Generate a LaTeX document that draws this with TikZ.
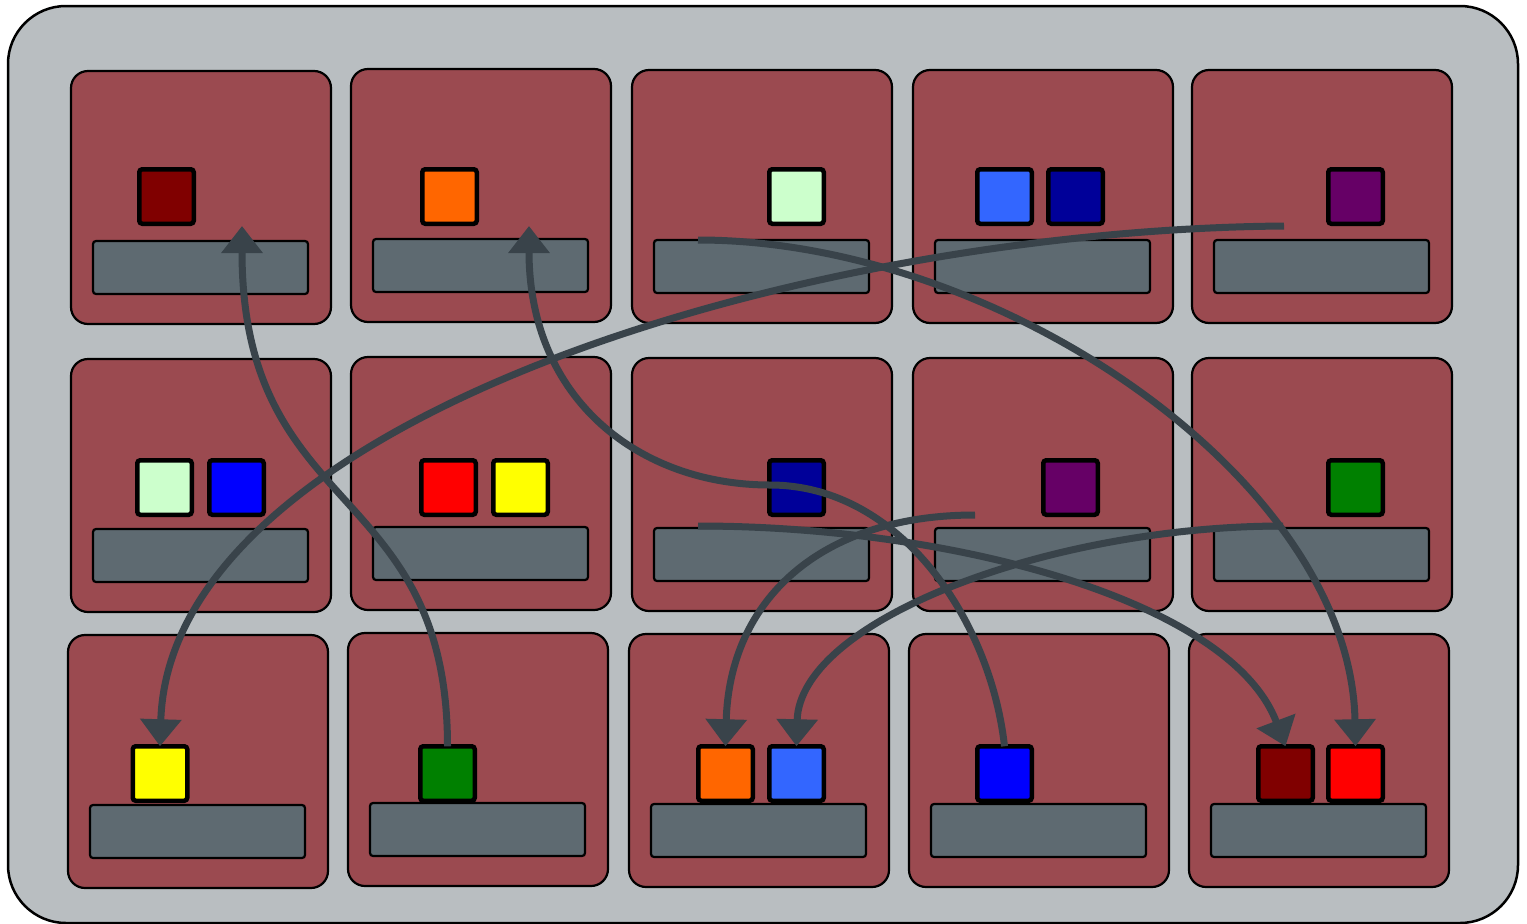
\documentclass[tikz,border=0pt]{standalone}
\usetikzlibrary{arrows.meta}
\definecolor{cboard}{HTML}{B9BEC1}
\definecolor{ccell}{HTML}{9B4A50}
\definecolor{cbar}{HTML}{5E6A71}
\definecolor{cmove}{HTML}{39434A}
\definecolor{pmaroon}{HTML}{800000}
\definecolor{porange}{HTML}{FF6600}
\definecolor{pmint}{HTML}{CCFFCC}
\definecolor{psky}{HTML}{3366FF}
\definecolor{pnavy}{HTML}{000099}
\definecolor{pplum}{HTML}{660066}
\definecolor{pblue}{HTML}{0000FF}
\definecolor{pred}{HTML}{FF0000}
\definecolor{pyellow}{HTML}{FFFF00}
\definecolor{pgreen}{HTML}{008000}
\tikzset{
  every picture/.style={x=1pt, y=-1pt},
  board/.style={draw=black, fill=cboard, line width=2.5pt, rounded corners=58pt},
  cell/.style={draw=black, fill=ccell, line width=2.2pt, rounded corners=17pt, minimum width=260pt, minimum height=253pt, inner sep=0pt, outer sep=0pt, anchor=north west},
  bar/.style={draw=black, fill=cbar, line width=2.2pt, rounded corners=3pt, minimum width=215pt, minimum height=53pt, inner sep=0pt, outer sep=0pt, anchor=north west},
  piece/.style={draw=black, fill=#1, line width=4.5pt, rounded corners=3pt, minimum size=54.5pt, inner sep=0pt, outer sep=0pt},
  move/.style={-{Triangle[width=40pt, length=27pt]}, draw=cmove, line width=7pt},
}

\begin{document}
\begin{tikzpicture}
  \newcommand{\cellbox}[3]{\node[cell] (#1) at (#2,#3) {};
    \node[bar] (#1bar) at ([xshift=22pt, yshift=-170pt]#1.north west) {};}
  \useasboundingbox (0,0) rectangle (1527,924);
  \draw[board] (8,6) rectangle (1518,923);

  % row one
  \cellbox{c11}{71}{71}
  \cellbox{c12}{351}{69}
  \cellbox{c13}{632}{70}
  \cellbox{c14}{913}{70}
  \cellbox{c15}{1192}{70}
  \node[piece=pmaroon] (p11) at (166.5,196.5) {};
  \node[piece=porange] (p12) at (449.5,196.5) {};
  \node[piece=pmint] (p13) at (796.5,196.5) {};
  \node[piece=psky] (p14a) at (1004.5,196.5) {};
  \node[piece=pnavy] (p14b) at (1075.5,196.5) {};
  \node[piece=pplum] (p15) at (1355.5,196.5) {};

  % row two
  \cellbox{c21}{71}{359}
  \cellbox{c22}{351}{357}
  \cellbox{c23}{632}{358}
  \cellbox{c24}{913}{358}
  \cellbox{c25}{1192}{358}
  \node[piece=pmint] (p21a) at (164.5,487.5) {};
  \node[piece=pblue] (p21b) at (236.5,487.5) {};
  \node[piece=pred] (p22a) at (448.5,487.5) {};
  \node[piece=pyellow] (p22b) at (520.5,487.5) {};
  \node[piece=pnavy] (p23) at (796.5,487.5) {};
  \node[piece=pplum] (p24) at (1070.5,487.5) {};
  \node[piece=pgreen] (p25) at (1355.5,487.5) {};

  % row three
  \cellbox{c31}{68}{635}
  \cellbox{c32}{348}{633}
  \cellbox{c33}{629}{634}
  \cellbox{c34}{909}{634}
  \cellbox{c35}{1189}{634}
  \node[piece=pyellow] (p31) at (160,773.5) {};
  \node[piece=pgreen] (p32) at (447.5,773.5) {};
  \node[piece=porange] (p33a) at (725.5,773.5) {};
  \node[piece=psky] (p33b) at (796.5,773.5) {};
  \node[piece=pblue] (p34) at (1004.5,773.5) {};
  \node[piece=pmaroon] (p35a) at (1285.5,773.5) {};
  \node[piece=pred] (p35b) at (1355.5,773.5) {};

  % free ends of the moves
  \coordinate (t11) at (242,226);
  \coordinate (t12) at (529,226);
  \coordinate (s13) at (698,240);
  \coordinate (s15) at (1284,226);
  \coordinate (s23) at (698,526);
  \coordinate (s24) at (975,515);
  \coordinate (s25) at (1283,526);

  % moves
  \draw[move] (p32.north) .. controls +(0,-266) and +(0,294) .. (t11);
  \draw[move] (p34.north) .. controls +(-14,-126) and +(130,0) .. (770,485)
    .. controls +(-130,0) and +(0,174) .. (t12);
  \draw[move] (s13) .. controls +(302,0) and +(-5,-266) .. (p35b.north);
  \draw[move] (s15) .. controls +(-484,4) and +(10,-326) .. (p31.north);
  \draw[move] (s23) .. controls +(252,0) and +(-55,-146) .. (p35a.north);
  \draw[move] (s24) .. controls +(-155,0) and +(4,-146) .. (p33a.north);
  \draw[move] (s25) .. controls +(-233,0) and +(3,-126) .. (p33b.north);
\end{tikzpicture}
\end{document}
